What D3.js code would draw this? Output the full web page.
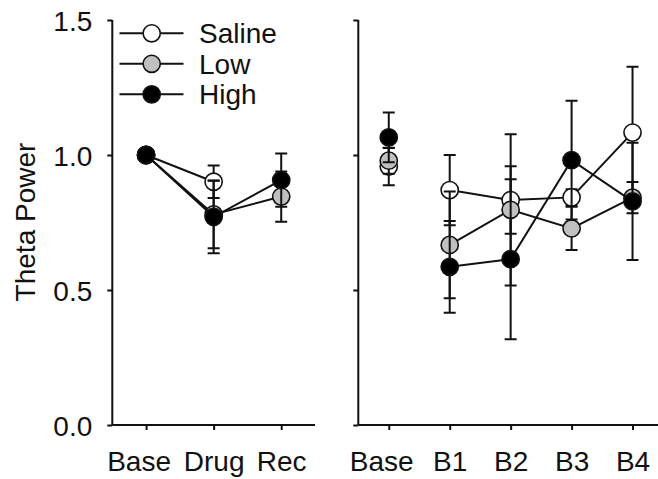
<!DOCTYPE html>
<html>
<head>
<meta charset="utf-8">
<script src="https://cdn.jsdelivr.net/npm/d3@7"></script>
<style>
  html, body { margin: 0; padding: 0; background: #fff; }
  svg { display: block; }
  text { font-family: "Liberation Sans", Arial, sans-serif; fill: #111; }
</style>
</head>
<body>
<svg id="chart" width="658" height="479"></svg>
<script>
// Categories and tick labels
const leftCategories = ["Base", "Drug", "Rec"];
const rightCategories = ["Base", "B1", "B2", "B3", "B4"];
const yTickValues = [0, 0.5, 1.0, 1.5];

// Drug session (left panel): means and SEM
const salineLeft = [1.0, 0.901, null];
const salineLeftErr = [0, 0.06, 0];
const lowLeft = [1.0, 0.78, 0.846];
const lowLeftErr = [0, 0.125, 0.093];
const highLeft = [1.0, 0.771, 0.907];
const highLeftErr = [0, 0.135, 0.099];

// Blocks (right panel): means and SEM
const salineRight = [0.957, 0.870, 0.833, 0.843, 1.083];
const salineRightErr = [0.069, 0.13, 0.125, 0.03, 0.244];
const lowRight = [0.979, 0.667, 0.797, 0.728, 0.842];
const lowRightErr = [0.048, 0.198, 0.28, 0.08, 0.058];
const highRight = [1.065, 0.586, 0.614, 0.981, 0.828];
const highRightErr = [0.092, 0.17, 0.296, 0.22, 0.217];

const seriesNames = ["Saline", "Low", "High"];
const seriesFills = ["#ffffff", "#c0c0c0", "#000000"];

const svg = d3.select("#chart");
const ink = "#111";
const R = 8.6;
const FS = 28;

const y = d3.scaleLinear().domain([0, 1.5]).range([425, 20]);

function drawPanel(cats, xRange, series, showYLabels, linkFrom) {
  const x = d3.scalePoint().domain(cats).range(xRange).padding(0.5);
  const g = svg.append("g");

  // axes
  const yAxis = d3.axisLeft(y).tickValues(yTickValues).tickSize(5).tickPadding(15)
    .tickFormat(showYLabels ? d3.format(".1f") : () => "");
  const ya = g.append("g").attr("transform", `translate(${xRange[0]},0)`).call(yAxis);
  const xAxis = d3.axisBottom(x).tickSize(5).tickPadding(21);
  const xa = g.append("g").attr("transform", `translate(0,${y(0)})`).call(xAxis);
  [ya, xa].forEach(a => {
    a.select(".domain").attr("stroke", ink).attr("stroke-width", 2);
    a.selectAll(".tick line").attr("stroke", ink).attr("stroke-width", 2);
    a.selectAll(".tick text").attr("font-size", FS).style("fill", ink)
      .attr("font-family", null);
  });
  ya.select(".domain").attr("d", `M0,${y(1.5)}V${y(0)}`);
  xa.select(".domain").attr("d", `M${xRange[0]},0H${xRange[1]}`);
  ya.selectAll(".tick text").attr("dy", "0.36em");
  xa.selectAll(".tick text").attr("dy", "0.71em")
    .attr("dx", d => d === "Base" ? -7.5 : 0);

  series.forEach((s, si) => {
    const pts = s.values.map((v, i) => ({ cat: cats[i], v, e: s.err[i], i }))
      .filter(p => p.v !== null);
    const sg = g.append("g");

    // error bars
    pts.filter(p => p.e > 0).forEach(p => {
      const cx = x(p.cat);
      sg.append("path")
        .attr("d", `M${cx},${y(p.v + p.e)}V${y(p.v - p.e)}` +
                   `M${cx - 6},${y(p.v + p.e)}H${cx + 6}` +
                   `M${cx - 6},${y(p.v - p.e)}H${cx + 6}`)
        .attr("stroke", ink).attr("stroke-width", 2).attr("fill", "none");
    });

    // connecting line
    const linked = pts.filter(p => p.i >= linkFrom);
    sg.append("path")
      .datum(linked)
      .attr("d", d3.line().x(p => x(p.cat)).y(p => y(p.v)))
      .attr("stroke", ink).attr("stroke-width", 2).attr("fill", "none");

    // markers
    sg.selectAll("circle").data(pts).join("circle")
      .attr("cx", p => x(p.cat)).attr("cy", p => y(p.v)).attr("r", R)
      .attr("fill", seriesFills[si]).attr("stroke", ink).attr("stroke-width", 1.6);
  });
}

drawPanel(leftCategories, [112.3, 315], [
  { values: salineLeft, err: salineLeftErr },
  { values: lowLeft, err: lowLeftErr },
  { values: highLeft, err: highLeftErr }
], true, 0);

drawPanel(rightCategories, [358.3, 663], [
  { values: salineRight, err: salineRightErr },
  { values: lowRight, err: lowRightErr },
  { values: highRight, err: highRightErr }
], false, 1);

// y-axis title
svg.append("text")
  .attr("transform", "translate(35,222) rotate(-90)")
  .attr("text-anchor", "middle")
  .attr("font-size", FS)
  .text("Theta Power");

// legend
const legend = svg.append("g");
seriesNames.forEach((name, i) => {
  const ly = 33.3 + i * 30.5;
  const row = legend.append("g");
  row.append("line").attr("x1", 119.5).attr("x2", 183.5).attr("y1", ly).attr("y2", ly)
    .attr("stroke", ink).attr("stroke-width", 2);
  row.append("circle").attr("cx", 151.7).attr("cy", ly).attr("r", R)
    .attr("fill", seriesFills[i]).attr("stroke", ink).attr("stroke-width", 1.6);
  row.append("text").attr("x", 199).attr("y", ly).attr("dy", "0.36em")
    .attr("font-size", FS).text(name);
});
</script>
</body>
</html>
